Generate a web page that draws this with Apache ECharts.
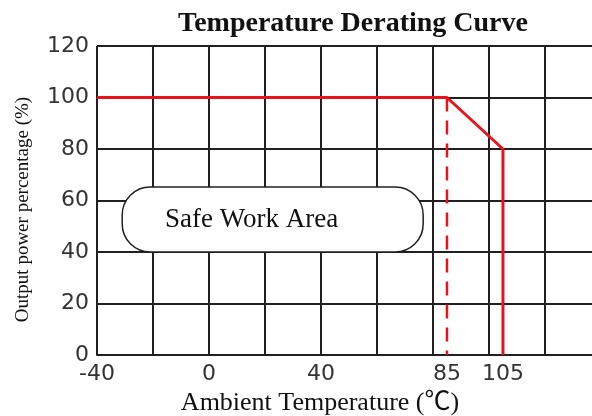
<!DOCTYPE html>
<html>
<head>
<meta charset="utf-8">
<script src="https://cdn.jsdelivr.net/npm/echarts@6/dist/echarts.min.js"></script>
<style>
html, body { margin: 0; padding: 0; background: #fff; }
#main { width: 592px; height: 416px; }
</style>
</head>
<body>
<div id="main"></div>
<script>
// x ticks that carry a label (grid lines still every 20)
const xTickLabels = [-40, 0, 40, 85, 105];
// derating curve, [temperature, output %]
const deratingCurve = [[-40, 100], [85, 100], [105, 80], [105, 0]];
// dashed marker at 85 deg
const derateStart = [[85, 100], [85, 0]];
// "Safe Work Area" box: x1, y1, x2, y2 in data units
const safeAreaBox = [-31, 40, 76.5, 65.2];
const safeAreaLabel = [-15.7, 52.4];

const chart = echarts.init(document.getElementById('main'));

const gridColor = '#231f20';
const red = '#e8141c';
const serif = '"Liberation Serif", "Times New Roman", "Noto Sans CJK SC", serif';
const sans = '"DejaVu Sans", sans-serif';

const option = {
  backgroundColor: '#fff',
  animation: false,
  title: {
    text: 'Temperature Derating Curve',
    left: 353,
    top: 10,
    padding: 0,
    textAlign: 'center',
    textStyle: {
      fontFamily: serif,
      fontWeight: 'bold',
      fontSize: 28,
      color: '#111'
    }
  },
  grid: {
    left: 97,
    right: 0,
    top: 46,
    bottom: 61,
    outerBoundsMode: 'none'
  },
  xAxis: {
    type: 'value',
    min: -40,
    max: 136.8,   // plot runs off the right edge of the picture
    interval: 20,
    name: 'Ambient Temperature (℃)',
    nameLocation: 'middle',
    nameGap: 27,
    nameTextStyle: {
      fontFamily: serif,
      fontSize: 26,
      color: '#111',
      padding: [0, 49, 0, 0]
    },
    axisLine: { show: true, lineStyle: { color: gridColor, width: 2 } },
    axisTick: { show: false },
    axisLabel: {
      customValues: xTickLabels,
      fontFamily: sans,
      fontSize: 22,
      color: '#333',
      margin: 8
    },
    splitLine: { show: true, showMaxLine: false, lineStyle: { color: gridColor, width: 2 } }
  },
  yAxis: {
    type: 'value',
    min: 0,
    max: 120,
    interval: 20,
    name: 'Output power percentage (%)',
    nameLocation: 'middle',
    nameGap: 64,
    nameTextStyle: {
      fontFamily: serif,
      fontSize: 19,
      color: '#111',
      padding: [0, 18, 0, 0]
    },
    axisLine: { show: true, lineStyle: { color: gridColor, width: 2 } },
    axisTick: { show: false },
    axisLabel: {
      fontFamily: sans,
      fontSize: 22,
      color: '#333',
      margin: 8
    },
    splitLine: { show: true, lineStyle: { color: gridColor, width: 2 } }
  },
  series: [
    {
      name: 'derating',
      type: 'line',
      data: deratingCurve,
      symbol: 'none',
      z: 5,
      lineStyle: { color: red, width: 3 }
    },
    {
      name: '85',
      type: 'line',
      data: derateStart,
      symbol: 'none',
      z: 5,
      lineStyle: { color: red, width: 2.5, type: [14, 9] }
    }
  ]
};

chart.setOption(option);

// place the annotation box from data coordinates
const p1 = chart.convertToPixel({ gridIndex: 0 }, [safeAreaBox[0], safeAreaBox[3]]);
const p2 = chart.convertToPixel({ gridIndex: 0 }, [safeAreaBox[2], safeAreaBox[1]]);
const pt = chart.convertToPixel({ gridIndex: 0 }, safeAreaLabel);

chart.setOption({
  graphic: [
    {
      type: 'rect',
      z: 10,
      shape: { x: p1[0], y: p1[1], width: p2[0] - p1[0], height: p2[1] - p1[1], r: 28 },
      style: { fill: '#fff', stroke: gridColor, lineWidth: 1.5 }
    },
    {
      type: 'text',
      z: 11,
      x: pt[0],
      y: pt[1],
      style: {
        text: 'Safe Work Area',
        font: '27px ' + serif,
        fill: '#111',
        verticalAlign: 'middle'
      }
    }
  ]
});
</script>
</body>
</html>
